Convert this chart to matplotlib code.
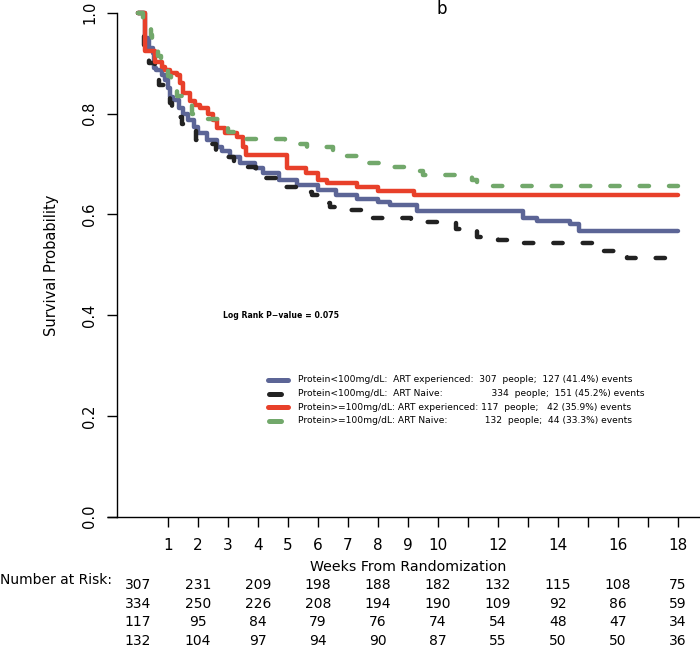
import matplotlib
matplotlib.use("Agg")
import matplotlib.pyplot as plt
from matplotlib.transforms import blended_transform_factory

# ---- data ----
blue_t = [0, 0.22, 0.35, 0.5, 0.53, 0.6, 0.8, 0.9, 1.0, 1.05, 1.15, 1.35, 1.5, 1.67, 1.85, 2.0, 2.3,
          2.63, 2.8, 3.07, 3.4, 3.9, 4.17, 4.7, 5.3, 6.0, 6.6, 7.3, 8.0, 8.4, 9.3, 12.85, 13.3,
          14.4, 14.7, 18]
blue_s = [1.0, 0.95, 0.93, 0.92, 0.89, 0.886, 0.876, 0.866, 0.85, 0.833, 0.827, 0.81, 0.80, 0.787,
          0.773, 0.762, 0.748, 0.734, 0.725, 0.714, 0.701, 0.692, 0.682, 0.668, 0.658, 0.648, 0.638,
          0.630, 0.625, 0.618, 0.606, 0.592, 0.587, 0.58, 0.566, 0.566]

black_t = [0, 0.2, 0.25, 0.35, 0.55, 0.7, 0.85, 1.05, 1.12, 1.2, 1.45, 1.75, 1.95, 2.2, 2.6, 2.85,
           3.2, 3.6, 3.95, 4.25, 4.6, 4.95, 5.4, 5.8, 6.1, 6.4, 6.9, 7.6, 9.1, 10.6, 11.3, 12.0, 12.7,
           15.2, 16.0, 16.3, 18]
black_s = [1.0, 0.935, 0.92, 0.90, 0.886, 0.856, 0.845, 0.82, 0.80, 0.793, 0.78, 0.767, 0.748, 0.74,
           0.725, 0.713, 0.70, 0.694, 0.682, 0.672, 0.662, 0.654, 0.644, 0.638, 0.622, 0.614, 0.608,
           0.592, 0.585, 0.57, 0.555, 0.549, 0.544, 0.528, 0.519, 0.514, 0.514]

red_t = [0, 0.23, 0.57, 0.8, 0.9, 1.07, 1.3, 1.4, 1.5, 1.75, 1.9, 2.07, 2.33, 2.5, 2.63, 2.9, 3.3,
         3.5, 3.6, 4.97, 5.6, 6.0, 6.3, 7.3, 8.0, 9.2, 18]
red_s = [1.0, 0.925, 0.902, 0.892, 0.886, 0.881, 0.876, 0.86, 0.84, 0.825, 0.817, 0.81, 0.80, 0.787,
         0.771, 0.762, 0.754, 0.733, 0.718, 0.692, 0.681, 0.668, 0.662, 0.654, 0.647, 0.638, 0.638]

green_t = [0, 0.18, 0.42, 0.48, 0.67, 0.75, 1.0, 1.1, 1.3, 1.5, 1.8, 2.0, 2.9, 3.0, 3.3, 3.5, 4.9,
           5.65, 6.5, 7.3, 8.2, 9.4, 9.5, 11.15, 11.3, 18]
green_s = [1.0, 0.985, 0.955, 0.94, 0.915, 0.90, 0.875, 0.86, 0.835, 0.823, 0.80, 0.79, 0.771, 0.764,
           0.757, 0.749, 0.74, 0.733, 0.716, 0.702, 0.694, 0.685, 0.678, 0.668, 0.656, 0.656]

legend_labels = [
    "Protein<100mg/dL:  ART experienced:  307  people;  127 (41.4%) events",
    "Protein<100mg/dL:  ART Naive:                 334  people;  151 (45.2%) events",
    "Protein>=100mg/dL: ART experienced: 117  people;   42 (35.9%) events",
    "Protein>=100mg/dL: ART Naive:             132  people;  44 (33.3%) events",
]

risk_times = [0, 2, 4, 6, 8, 10, 12, 14, 16, 18]
risk_rows = [
    [307, 231, 209, 198, 188, 182, 132, 115, 108, 75],
    [334, 250, 226, 208, 194, 190, 109, 92, 86, 59],
    [117, 95, 84, 79, 76, 74, 54, 48, 47, 34],
    [132, 104, 97, 94, 90, 87, 55, 50, 50, 36],
]

xtick_pos = list(range(1, 19))
xtick_lab = ["1", "2", "3", "4", "5", "6", "7", "8", "9", "10", "", "12", "", "14", "", "16", "", "18"]
ytick_pos = [0.0, 0.2, 0.4, 0.6, 0.8, 1.0]
ytick_lab = ["0.0", "0.2", "0.4", "0.6", "0.8", "1.0"]

# ---- figure ----
W, H = 700, 648
plt.rcParams["font.family"] = ["DejaVu Sans"]
fig = plt.figure(figsize=(W / 100, H / 100), dpi=100)

x0_px, week_px = 138.0, 30.0     # pixel of week 0, pixels per week
y0_px, unit_px = 516.7, 504.0    # pixel of S=0, pixels per unit survival
ax_left, ax_right, ax_top, ax_bot = 116.7, 700, 0, y0_px
ax = fig.add_axes([ax_left / W, 1 - ax_bot / H, (ax_right - ax_left) / W, (ax_bot - ax_top) / H])

lw = 3.2
dash = (2.1, 4.5)
series = [
    (blue_t, blue_s, "#5c6596", None),
    (black_t, black_s, "#222222", dash),
    (red_t, red_s, "#e8402a", None),
    (green_t, green_s, "#72a86b", dash),
]
for t, s, c, d in series:
    if d is None:
        ax.plot(t, s, drawstyle="steps-post", color=c, lw=lw, solid_capstyle="round",
                solid_joinstyle="round")
    else:
        ax.plot(t, s, drawstyle="steps-post", color=c, lw=lw, dashes=d,
                dash_capstyle="round", dash_joinstyle="round")

# x-axis line extends a little to the left of the y-axis (R style)
xl = (107 - x0_px) / week_px
ax.plot([xl, (ax_left - x0_px) / week_px], [0, 0], color="black", lw=1.0, clip_on=False,
        solid_capstyle="butt")

ax.set_xlim((ax_left - x0_px) / week_px, (ax_right - x0_px) / week_px)
ax.set_ylim(0, ax_bot / unit_px)

for sp in ["top", "right"]:
    ax.spines[sp].set_visible(False)
ax.spines["left"].set_bounds(0, 1)
ax.spines["left"].set_linewidth(1.0)
ax.spines["bottom"].set_linewidth(1.0)

ax.set_xticks(xtick_pos)
ax.set_xticklabels(xtick_lab, fontsize=11)
ax.set_yticks(ytick_pos)
ax.set_yticklabels(ytick_lab, fontsize=10.5, rotation=90, va="center")
ax.tick_params(axis="x", direction="out", length=7, width=1, pad=8)
ax.tick_params(axis="y", direction="out", length=7, width=1, pad=7)

fig.text(52 / W, 1 - 265 / H, "Survival Probability", rotation=90, ha="center", va="center",
         fontsize=10.5)
fig.text(408 / W, 1 - 567 / H, "Weeks From Randomization", ha="center", va="center", fontsize=10.2)
fig.text(442 / W, 1 - 9 / H, "b", ha="center", va="center", fontsize=12)

ax.text((223 - x0_px) / week_px, 0.40, "Log Rank P\u2212value = 0.075", fontsize=5.6,
        fontweight="bold", ha="left", va="center")

# legend drawn by hand (R-style key: short single dash for dashed lines)
def px_to_axes(xp, yp):
    return ((xp - ax_left) / (ax_right - ax_left), (ax_bot - yp) / (ax_bot - ax_top))

leg_rows_y = [380, 393.5, 407, 420.5]
leg_key_x = [(268, 288), (269, 281), (268, 288), (269, 281)]
for (t, s, c, d), lab, yy, (xa, xb) in zip(series, legend_labels, leg_rows_y, leg_key_x):
    a0 = px_to_axes(xa, yy)
    a1 = px_to_axes(xb, yy)
    ax.plot([a0[0], a1[0]], [a0[1], a1[1]], transform=ax.transAxes, color=c, lw=3.6,
            solid_capstyle="round", clip_on=False)
    tx = px_to_axes(298, yy)
    ax.text(tx[0], tx[1], lab, transform=ax.transAxes, fontsize=6.6, ha="left", va="center")

# number at risk
fig.text(0, 1 - 580 / H, "Number at Risk:", ha="left", va="center", fontsize=10)
trans = blended_transform_factory(ax.transData, fig.transFigure)
row_y = [585, 604, 622, 641]
for row, yy in zip(risk_rows, row_y):
    for tt, v in zip(risk_times, row):
        ax.text(tt, 1 - yy / H, str(v), transform=trans, ha="center", va="center",
                fontsize=10, clip_on=False)

fig.savefig("out.png", dpi=100)
